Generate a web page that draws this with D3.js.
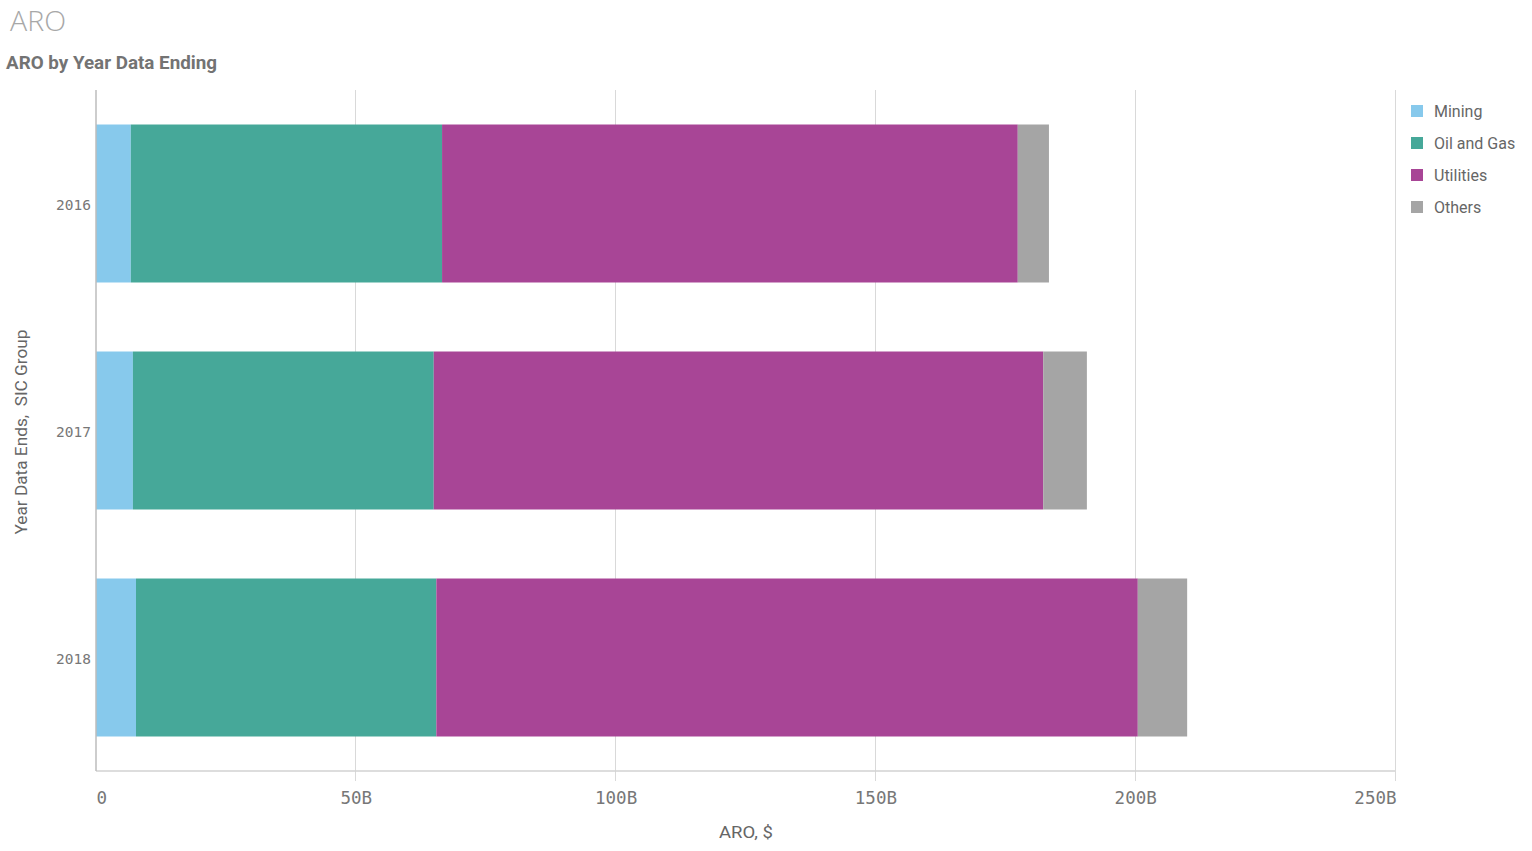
<!DOCTYPE html>
<html><head><meta charset="utf-8">
<script src="https://cdn.jsdelivr.net/npm/d3@7"></script>
<style>
html,body{margin:0;padding:0;background:#fff;}
svg{display:block;}
</style></head>
<body>
<svg id="chart" width="1532" height="851"></svg>
<script>
const years = ["2016", "2017", "2018"];
const groups = ["Mining", "Oil and Gas", "Utilities", "Others"];
const mining = [6.7, 7.1, 7.7];
const oilGas = [59.9, 57.9, 57.8];
const utilities = [110.8, 117.3, 135.0];
const others = [6.0, 8.4, 9.5];
const colors = ["#87c9ec", "#46a899", "#a84596", "#a5a5a5"];
const xTicks = [0, 50, 100, 150, 200, 250];
const xTickLabels = ["0", "50B", "100B", "150B", "200B", "250B"];

(function () {
const series = [mining, oilGas, utilities, others];
const rows = years.map((y, i) => {
  const r = {year: y};
  groups.forEach((g, j) => r[g] = series[j][i]);
  return r;
});
const stacked = d3.stack().keys(groups)(rows);

const svg = d3.select("#chart");
const pLeft = 96, pRight = 1395, pTop = 90, pBottom = 771;
const x = d3.scaleLinear().domain([0, 250]).range([pLeft, pRight]);
const y = d3.scaleBand().domain(years).range([pTop, pBottom]).paddingInner(0.304).paddingOuter(0.152);
const color = d3.scaleOrdinal().domain(groups).range(colors);

// title
svg.append("text").attr("x", 10).attr("y", 31).text("ARO")
  .attr("font-family", "Open Sans, sans-serif").attr("font-size", 28).attr("fill", "#a8a8a8").attr("font-weight", 300)
  .attr("textLength", 56).attr("lengthAdjust", "spacingAndGlyphs");
svg.append("text").attr("x", 6).attr("y", 69).text("ARO by Year Data Ending")
  .attr("font-family", "Roboto, sans-serif").attr("font-size", 18).attr("font-weight", 700).attr("fill", "#737373")
  .attr("textLength", 211).attr("lengthAdjust", "spacingAndGlyphs");

// gridlines
svg.append("g").selectAll("line").data(xTicks.slice(1)).join("line")
  .attr("x1", d => x(d)).attr("x2", d => x(d)).attr("y1", pTop).attr("y2", pBottom + 10)
  .attr("stroke", "#d9d9d9").attr("stroke-width", 1).attr("shape-rendering", "crispEdges");

// bars
svg.append("g").selectAll("g").data(stacked).join("g")
  .attr("fill", d => color(d.key))
  .selectAll("rect").data(d => d).join("rect")
  .attr("x", d => x(d[0])).attr("width", d => x(d[1]) - x(d[0]))
  .attr("y", d => y(d.data.year)).attr("height", y.bandwidth());

// axes lines
svg.append("line").attr("x1", pLeft).attr("x2", pRight).attr("y1", pBottom).attr("y2", pBottom)
  .attr("stroke", "#d2d2d2").attr("stroke-width", 1.5);
svg.append("line").attr("x1", pLeft).attr("x2", pLeft).attr("y1", pTop).attr("y2", pBottom)
  .attr("stroke", "#bdbdbd").attr("stroke-width", 1.5);

// x axis
const xAxis = d3.axisBottom(x).tickValues(xTicks).tickFormat((d, i) => xTickLabels[i]).tickSize(0).tickPadding(21);
const gx = svg.append("g").attr("transform", `translate(0,${pBottom})`).call(xAxis);
gx.select(".domain").remove();
gx.selectAll("text").attr("font-family", "DejaVu Sans Mono, monospace").attr("font-size", 17.5).attr("fill", "#777")
  .attr("text-anchor", (d, i) => i === 0 ? "start" : (i === xTicks.length - 1 ? "end" : "middle"))
  .attr("dx", (d, i) => i === 0 ? 0 : (i === xTicks.length - 1 ? 1 : 0));

// y axis
const yAxis = d3.axisLeft(y).tickSize(0).tickPadding(5);
const gy = svg.append("g").attr("transform", `translate(${pLeft},0)`).call(yAxis);
gy.select(".domain").remove();
gy.selectAll("text").attr("font-family", "DejaVu Sans Mono, monospace").attr("font-size", 14.5).attr("fill", "#777")
  .attr("dy", "0.42em");

// axis titles
svg.append("text").attr("x", 746).attr("y", 838).attr("text-anchor", "middle").text("ARO, $")
  .attr("font-family", "Roboto, sans-serif").attr("font-size", 17).attr("fill", "#666")
  .attr("textLength", 54).attr("lengthAdjust", "spacingAndGlyphs");
svg.append("text").attr("transform", "translate(27,432) rotate(-90)").attr("text-anchor", "middle")
  .text("Year Data Ends,  SIC Group").style("white-space", "pre")
  .attr("font-family", "Roboto, sans-serif").attr("font-size", 17).attr("fill", "#666")
  .attr("textLength", 205).attr("lengthAdjust", "spacingAndGlyphs");

// legend
const lg = svg.append("g").selectAll("g").data(groups).join("g")
  .attr("transform", (d, i) => `translate(1411,${105 + i * 32})`);
lg.append("rect").attr("width", 12).attr("height", 12).attr("fill", d => color(d));
lg.append("text").attr("x", 23).attr("y", 11.5).text(d => d)
  .attr("font-family", "Roboto, sans-serif").attr("font-size", 16).attr("fill", "#666");
})();
</script>
</body></html>
